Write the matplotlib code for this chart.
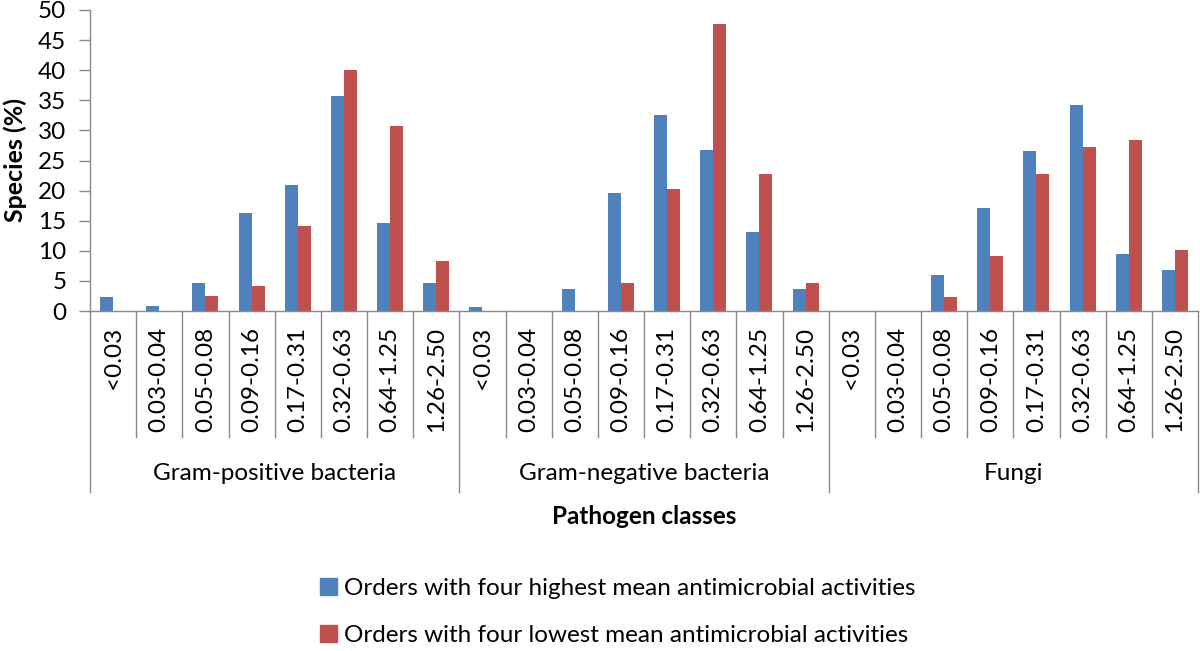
import numpy as np
import matplotlib.pyplot as plt
import matplotlib.transforms as mtransforms
from matplotlib.patches import Patch

plt.rcParams['font.family'] = ['Lato', 'DejaVu Sans']

# data
groups = ['Gram-positive bacteria', 'Gram-negative bacteria', 'Fungi']
ranges = ['<0.03', '0.03-0.04', '0.05-0.08', '0.09-0.16', '0.17-0.31',
          '0.32-0.63', '0.64-1.25', '1.26-2.50']
highest = [2.3, 0.8, 4.6, 16.3, 20.9, 35.7, 14.7, 4.6,
           0.7, 0.0, 3.6, 19.6, 32.6, 26.8, 13.1, 3.6,
           0.0, 0.0, 5.9, 17.1, 26.5, 34.2, 9.4, 6.8]
lowest = [0.0, 0.0, 2.5, 4.1, 14.1, 40.1, 30.8, 8.3,
          0.0, 0.0, 0.0, 4.7, 20.2, 47.7, 22.7, 4.7,
          0.0, 0.0, 2.3, 9.1, 22.8, 27.3, 28.4, 10.2]
lab_high = 'Orders with four highest mean antimicrobial activities'
lab_low = 'Orders with four lowest mean antimicrobial activities'

blue = '#4F81BD'
red = '#C0504D'
grey = '#898989'
fs = 17.5

W, H = 1200, 651
fig = plt.figure(figsize=(12, 6.51), dpi=100)
ax = fig.add_axes([90 / W, 1 - 311 / H, 1108 / W, 301 / H])

n = len(highest)
x = np.arange(n) + 0.5
w = 0.28
ax.bar(x - w / 2, highest, w, color=blue)
ax.bar(x + w / 2, lowest, w, color=red)

ax.set_xlim(0, n)
ax.set_ylim(0, 50)
ax.set_yticks(np.arange(0, 51, 5))
ax.tick_params(axis='y', labelsize=fs, length=8, width=1, color=grey, pad=9)
ax.set_xticks([])
for s in ['top', 'right']:
    ax.spines[s].set_visible(False)
for s in ['left', 'bottom']:
    ax.spines[s].set_color(grey)
    ax.spines[s].set_linewidth(1)
ax.set_ylabel('Species (%)', fontsize=fs + 0.5, fontweight='bold', labelpad=8)

trans = mtransforms.blended_transform_factory(ax.transData, ax.transAxes)
ax_h = 301.0
def yfrac(py):
    return (311 - py) / ax_h

# category separators and labels
for i in range(n + 1):
    bottom = 492 if i % 8 == 0 else 437
    ax.plot([i, i], [0, yfrac(bottom)], color=grey, lw=1, transform=trans, clip_on=False)
for i in range(n):
    ax.text(i + 0.5, yfrac(327), ranges[i % 8], rotation=90, ha='center', va='top',
            fontsize=fs, transform=trans)
for g, name in enumerate(groups):
    ax.text(g * 8 + 4, yfrac(473), name, ha='center', va='center', fontsize=fs, transform=trans)

ax.text(12, yfrac(517), 'Pathogen classes', ha='center', va='center', fontsize=fs,
        fontweight='bold', transform=trans)

handles = [Patch(color=blue, label=lab_high), Patch(color=red, label=lab_low)]
fig.legend(handles=handles, loc='upper left', bbox_to_anchor=(320 / W, 1 - 578 / H),
           frameon=False, fontsize=fs, handlelength=0.7, handleheight=0.7,
           handletextpad=0.3, labelspacing=1.05, borderaxespad=0, borderpad=0)

fig.savefig('out.png', dpi=100)
